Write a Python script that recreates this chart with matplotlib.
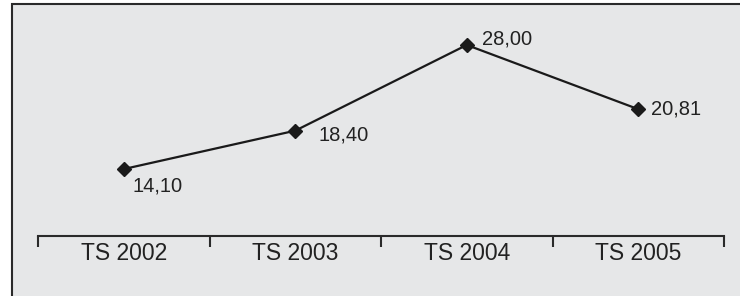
import matplotlib
matplotlib.use('Agg')
import matplotlib.pyplot as plt
from matplotlib.patches import Rectangle

# data
categories = ['TS 2002', 'TS 2003', 'TS 2004', 'TS 2005']
values = [14.10, 18.40, 28.00, 20.81]
labels = ['14,10', '18,40', '28,00', '20,81']
# label offsets from the marker, in points
offsets = [(6, -12), (17, -3), (11, 4), (9, 0)]

plt.rcParams['font.family'] = ['Liberation Sans', 'DejaVu Sans']

fig = plt.figure(figsize=(7.4, 2.96), dpi=100, facecolor='white')

# grey panel with black frame (cropped on right and bottom)
panel = Rectangle((12 / 740, -0.2), 1.0, 1.2 - 4 / 296, transform=fig.transFigure,
                  facecolor='#e6e7e8', edgecolor='#2a2a2a', linewidth=1.5, zorder=0)
fig.add_artist(panel)

ax = fig.add_axes([38 / 740, 60 / 296, 686 / 740, 216 / 296])
ax.set_facecolor('none')

x = list(range(len(categories)))
ax.plot(x, values, color='#1a1a1a', linewidth=1.6, marker='D', markersize=7,
        markerfacecolor='#1a1a1a', markeredgecolor='#1a1a1a', zorder=3)

for xi, v, lab, off in zip(x, values, labels, offsets):
    ax.annotate(lab, (xi, v), xytext=off, textcoords='offset points',
                ha='left', va='center', fontsize=14.5, color='#222222')

ax.set_xlim(-0.5, len(categories) - 0.5)
ax.set_ylim(6.6, 30.8)

for s in ['left', 'right', 'top']:
    ax.spines[s].set_visible(False)
ax.spines['bottom'].set_color('#2a2a2a')
ax.spines['bottom'].set_linewidth(1.5)
ax.set_yticks([])

ax.set_xticks([i - 0.5 for i in range(len(categories) + 1)])
ax.set_xticklabels([])
ax.tick_params(axis='x', which='major', direction='out', length=8, width=1.5, color='#2a2a2a')
ax.set_xticks(x, minor=True)
ax.set_xticklabels(categories, minor=True, fontsize=16.5, color='#222222')
ax.tick_params(axis='x', which='minor', length=0, pad=4)

fig.savefig('out.png', dpi=100, facecolor='white')
